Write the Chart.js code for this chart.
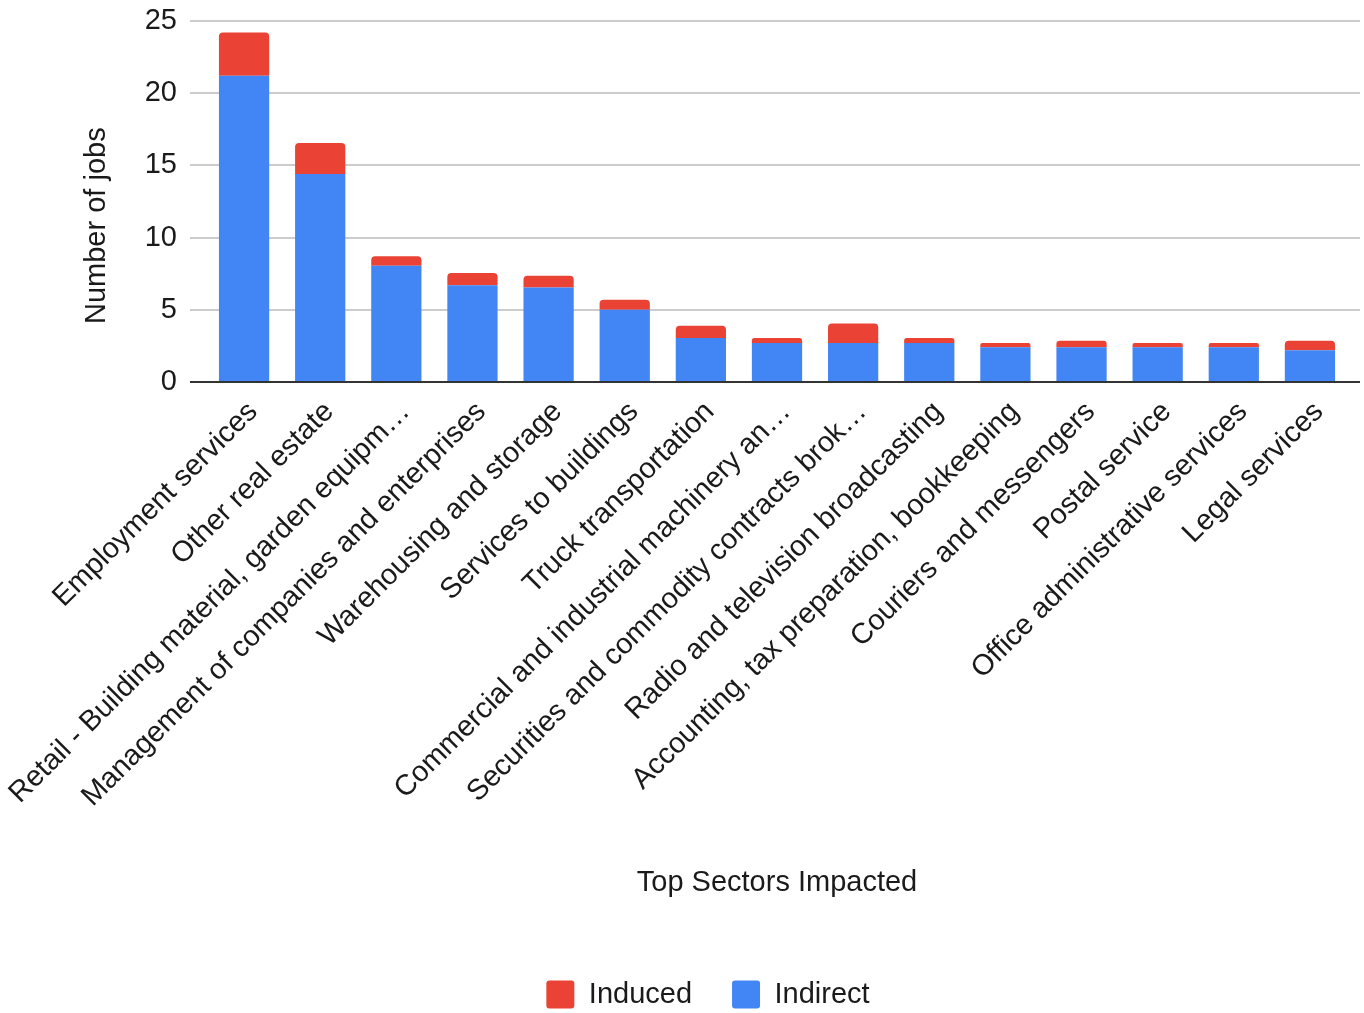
<!DOCTYPE html>
<html>
<head>
<meta charset="utf-8">
<script src="https://cdn.jsdelivr.net/npm/chart.js@4/dist/chart.umd.min.js"></script>
<style>
  html, body { margin: 0; padding: 0; background: #fff; }
  #wrap { width: 1364px; height: 1013px; }
</style>
</head>
<body>
<div id="wrap"><canvas id="myChart"></canvas></div>
<script>
const sectors = [
  "Employment services",
  "Other real estate",
  "Retail - Building material, garden equipm\u2026",
  "Management of companies and enterprises",
  "Warehousing and storage",
  "Services to buildings",
  "Truck transportation",
  "Commercial and industrial machinery an\u2026",
  "Securities and commodity contracts brok\u2026",
  "Radio and television broadcasting",
  "Accounting, tax preparation, bookkeeping",
  "Couriers and messengers",
  "Postal service",
  "Office administrative services",
  "Legal services"
];

const indirect = [21.2, 14.4, 8.05, 6.7, 6.55, 5.0, 3.05, 2.7, 2.7, 2.7, 2.4, 2.4, 2.4, 2.4, 2.2];
const induced  = [3.0, 2.15, 0.65, 0.85, 0.8, 0.7, 0.85, 0.35, 1.35, 0.35, 0.3, 0.45, 0.3, 0.3, 0.65];

const yTicks = [0, 5, 10, 15, 20, 25];

const fontFam = "'Liberation Sans', Arial, sans-serif";
const txt = '#1a1a1a';

// nudge the legend a bit to the right, like the original
const legendShift = {
  id: 'legendShift',
  afterLayout(chart) {
    if (chart.legend) {
      chart.legend.left += 26;
      chart.legend.right += 26;
    }
  }
};

const ctx = document.getElementById('myChart').getContext('2d');

let myChart = new Chart(ctx, {
  type: 'bar',
  data: {
    labels: sectors,
    datasets: [
      {
        label: 'Indirect',
        data: indirect,
        backgroundColor: '#4285F4',
        borderWidth: 0,
        categoryPercentage: 1,
        barPercentage: 0.66,
        yAxisID: 'y'
      },
      {
        label: 'Induced',
        data: induced,
        backgroundColor: '#EA4335',
        borderWidth: 0,
        borderRadius: { topLeft: 4, topRight: 4, bottomLeft: 0, bottomRight: 0 },
        borderSkipped: false,
        categoryPercentage: 1,
        barPercentage: 0.66,
        yAxisID: 'y'
      }
    ]
  },
  plugins: [legendShift],
  options: {
    responsive: true,
    maintainAspectRatio: false,
    animation: false,
    layout: { padding: { top: 0, right: 4, left: 4, bottom: -6 } },
    plugins: {
      tooltip: { enabled: false },
      legend: {
        position: 'bottom',
        reverse: true,
        labels: {
          color: txt,
          font: { family: fontFam, size: 29 },
          boxWidth: 28,
          boxHeight: 28,
          padding: 40,
          useBorderRadius: true,
          borderRadius: 3
        }
      }
    },
    scales: {
      x: {
        stacked: true,
        afterFit: axis => { axis.height = 558; },
        grid: { display: false },
        border: { display: true, color: '#333', width: 2 },
        ticks: {
          color: txt,
          font: { family: fontFam, size: 29 },
          minRotation: 45,
          maxRotation: 45,
          autoSkip: false,
          padding: 5,
          labelOffset: 9
        },
        title: {
          display: true,
          text: 'Top Sectors Impacted',
          color: txt,
          font: { family: fontFam, size: 29 },
          padding: { top: 20, bottom: 40 }
        }
      },
      y: {
        stacked: true,
        position: 'left',
        min: 0,
        max: 25,
        afterFit: axis => { axis.width = 202; axis.paddingTop = 21; },
        afterBuildTicks: axis => { axis.ticks = yTicks.map(v => ({ value: v })); },
        grid: {
          color: c => c.tick && c.tick.value === 0 ? '#333' : '#ccc',
          tickColor: c => c.tick && c.tick.value === 0 ? '#333' : '#ccc',
          lineWidth: 2,
          drawTicks: true,
          tickLength: 16
        },
        border: { display: false },
        ticks: {
          color: txt,
          font: { family: fontFam, size: 29 },
          padding: 13
        },
        title: {
          display: true,
          text: 'Number of jobs      ',
          color: txt,
          font: { family: fontFam, size: 29 },
          padding: { top: 76, bottom: 20 }
        }
      },
      yRight: {
        position: 'right',
        min: 0,
        max: 25,
        afterFit: axis => { axis.width = 12; axis.paddingTop = 21; },
        afterBuildTicks: axis => { axis.ticks = yTicks.map(v => ({ value: v })); },
        grid: {
          color: c => c.tick && c.tick.value === 0 ? '#333' : '#ccc',
          tickColor: c => c.tick && c.tick.value === 0 ? '#333' : '#ccc',
          lineWidth: 2,
          drawTicks: true,
          tickLength: 12
        },
        border: { display: false },
        ticks: { display: false }
      }
    }
  }
});
</script>
</body>
</html>
